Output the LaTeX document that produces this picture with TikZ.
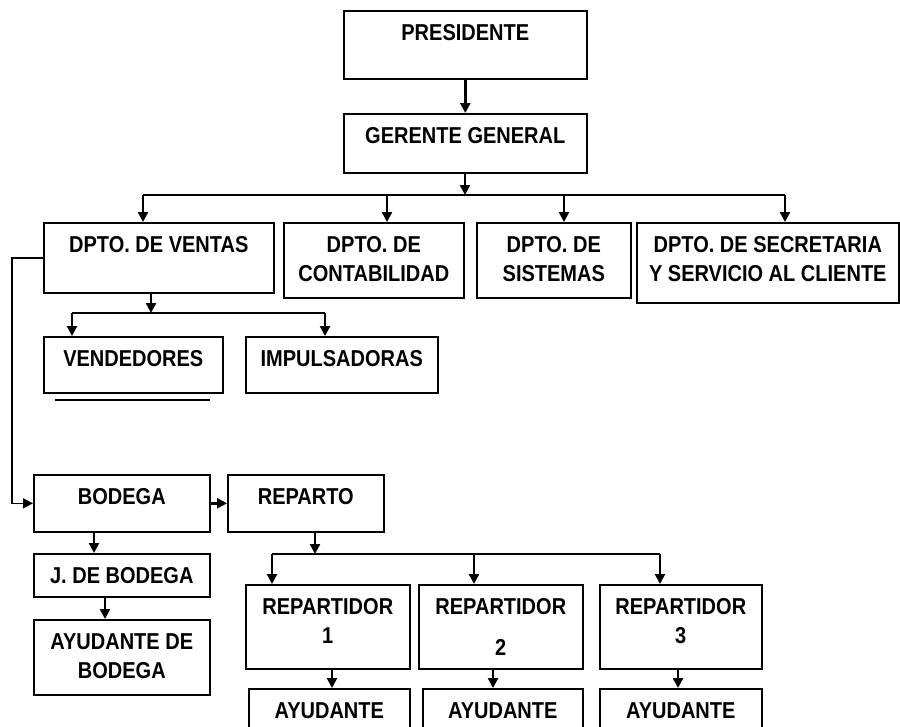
\documentclass[tikz,border=0pt]{standalone}
\usepackage{fontspec}
\setmainfont{Liberation Sans}[FakeStretch=0.87]
\usetikzlibrary{arrows.meta}

\tikzset{
  caja/.style={draw, line width=1.6pt, anchor=north west, inner sep=0pt},
  texto/.style={anchor=north, inner sep=0pt, yshift=-14pt, align=center,
    font=\fontsize{23}{29}\selectfont\bfseries},
  flecha/.style={line width=2.4pt, -{Triangle[width=10pt,length=10pt]}},
  linea/.style={line width=1.5pt},
}

\begin{document}
\begin{tikzpicture}[x=1pt, y=-1pt]
  \useasboundingbox (0,0) rectangle (900,726);
  \clip (0,0) rectangle (900,726);

  % direccion
  \node[caja, minimum width=243pt, minimum height=68pt, label={[texto]north:PRESIDENTE}] (pres) at (343,10) {};
  \node[caja, minimum width=243pt, minimum height=59pt, label={[texto]north:GERENTE GENERAL}] (ger) at (343,113) {};

  % departamentos
  \node[caja, minimum width=230pt, minimum height=70pt, label={[texto]north:DPTO. DE VENTAS}] (ventas) at (43,222) {};
  \node[caja, minimum width=180pt, minimum height=75pt, label={[texto]north:{DPTO. DE\\CONTABILIDAD}}] (conta) at (283,222) {};
  \node[caja, minimum width=154pt, minimum height=75pt, label={[texto]north:{DPTO. DE\\SISTEMAS}}] (sist) at (476,222) {};
  \node[caja, minimum width=262pt, minimum height=80pt, label={[texto]north:{DPTO. DE SECRETARIA\\Y SERVICIO AL CLIENTE}}] (secre) at (636,222) {};

  % ventas
  \node[caja, minimum width=179pt, minimum height=56pt, label={[texto]north:VENDEDORES}] (vend) at (43,336) {};
  \node[caja, minimum width=192pt, minimum height=56pt, label={[texto]north:IMPULSADORAS}] (impul) at (245,336) {};
  \draw[linea] (55,400) -- (210,400);

  % bodega y reparto
  \node[caja, minimum width=176pt, minimum height=57pt, label={[texto]north:BODEGA}] (bodega) at (33,474) {};
  \node[caja, minimum width=156pt, minimum height=57pt, label={[texto]north:REPARTO}] (reparto) at (227,474) {};
  \node[caja, minimum width=176pt, minimum height=43pt, label={[texto]north:J. DE BODEGA}] (jbod) at (33,553) {};
  \node[caja, minimum width=176pt, minimum height=75pt, label={[texto]north:{AYUDANTE DE\\BODEGA}}] (ayubod) at (33,619) {};

  % repartidores
  \node[caja, minimum width=164pt, minimum height=84pt, label={[texto]north:{REPARTIDOR\\1}}] (rep1) at (245,584) {};
  \node[caja, minimum width=164pt, minimum height=84pt, label={[texto]north:{REPARTIDOR\\[12pt]2}}] (rep2) at (418,584) {};
  \node[caja, minimum width=162pt, minimum height=84pt, label={[texto]north:{REPARTIDOR\\3}}] (rep3) at (599,584) {};
  \node[caja, minimum width=161pt, minimum height=60pt, label={[texto]north:AYUDANTE}] (ayu1) at (248,688) {};
  \node[caja, minimum width=160pt, minimum height=60pt, label={[texto]north:AYUDANTE}] (ayu2) at (422,688) {};
  \node[caja, minimum width=162pt, minimum height=60pt, label={[texto]north:AYUDANTE}] (ayu3) at (599,688) {};

  % conexiones
  \draw[flecha] (pres.south) -- (ger.north);
  \coordinate (bg) at (465,195);
  \draw[flecha] (bg |- ger.south) -- (bg);
  \draw[linea] (143,195) -- (785,195);
  \foreach \x/\n in {143/ventas, 387/conta, 564/sist, 785/secre}
    \draw[flecha] (\x,195) -- (\x,195 |- \n.north);

  \coordinate (bv) at (151,313);
  \draw[flecha] (bv |- ventas.south) -- (bv);
  \draw[linea] (72,313) -- (325,313);
  \foreach \x/\n in {72/vend, 325/impul}
    \draw[flecha] (\x,313) -- (\x,313 |- \n.north);

  \draw[linea, -{Triangle[width=10pt,length=10pt]}] (ventas.west) -- (12,0 |- ventas.west) |- (bodega.west);
  \draw[flecha] (bodega.east) -- (reparto.west);
  \draw[flecha] (94,0 |- bodega.south) -- (94,0 |- jbod.north);
  \draw[flecha] (105,0 |- jbod.south) -- (105,0 |- ayubod.north);

  \coordinate (br) at (315,554);
  \draw[flecha] (br |- reparto.south) -- (br);
  \draw[linea] (272,554) -- (660,554);
  \foreach \x/\n in {272/rep1, 474/rep2, 660/rep3}
    \draw[flecha] (\x,554) -- (\x,554 |- \n.north);
  \foreach \x/\a/\b in {332/rep1/ayu1, 493/rep2/ayu2, 678/rep3/ayu3}
    \draw[flecha] (\x,0 |- \a.south) -- (\x,0 |- \b.north);
\end{tikzpicture}
\end{document}
